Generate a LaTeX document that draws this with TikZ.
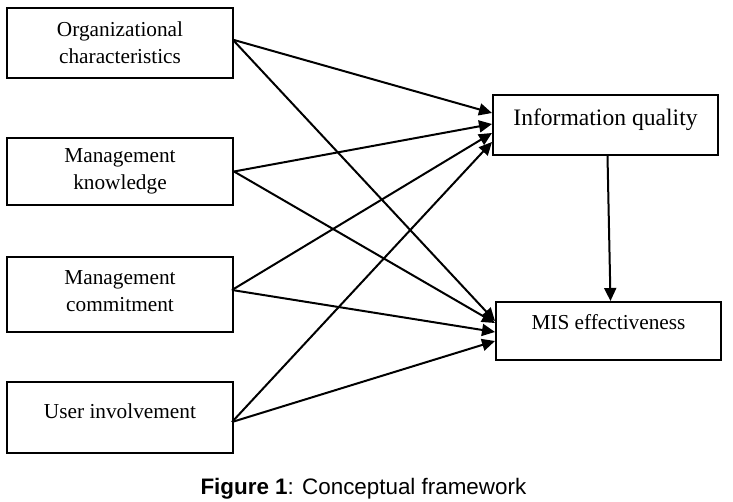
\documentclass[tikz,border=0pt]{standalone}
\usepackage{fontspec}
\setmainfont{Liberation Serif}
\newfontfamily\capfont{Liberation Sans}
\usetikzlibrary{arrows.meta}

\begin{document}
\begin{tikzpicture}[x=0.5pt,y=-0.5pt,box/.style={draw=black,line width=1pt,align=center,inner sep=0pt,font=\fontsize{10.65}{13.5}\selectfont},arr/.style={-{Triangle[length=6.5pt,width=6pt]},line width=1pt,draw=black}]
\useasboundingbox (0,0) rectangle (733,502);
\node[box,minimum width=113pt,minimum height=35pt] (org) at (120,43) {Organizational\\characteristics};
\node[box,minimum width=113pt,minimum height=33.5pt] (mgk) at (120,171.5) {Management\\knowledge};
\node[box,minimum width=113pt,minimum height=37.5pt,text depth=3pt] (mgc) at (120,294.5) {Management\\commitment};
\node[box,minimum width=113pt,minimum height=35.5pt,text depth=6pt] (usr) at (120,417.5) {User involvement};
\node[box,minimum width=112.5pt,minimum height=30pt,text depth=7.4pt,font=\fontsize{11.8}{14}\selectfont] (iq) at (605.5,125) {Information quality};
\node[box,minimum width=112.5pt,minimum height=29pt,text depth=8.9pt] (mis) at (608.5,331) {MIS effectiveness};
\node[anchor=base,font=\capfont\fontsize{11.2}{13}\selectfont] (cap) at (363.4,494) {\textbf{Figure 1}: Conceptual framework};
\draw[arr]([yshift=1.5pt]org.east)--([yshift=6pt]iq.west);\draw[arr]([yshift=1pt]org.east)--([yshift=5pt]mis.west);
\draw[arr](mgk.east)--([yshift=0.5pt]iq.west);\draw[arr](mgk.east)--([yshift=4pt]mis.west);
\draw[arr]([xshift=-1pt,yshift=2.25pt]mgc.east)--([yshift=-4pt]iq.west);\draw[arr]([xshift=-1pt,yshift=2.25pt]mgc.east)--([yshift=-0.5pt]mis.west);
\draw[arr]([xshift=-1pt,yshift=-2.25pt]usr.east)--([yshift=-8.5pt]iq.west);\draw[arr]([xshift=-1pt,yshift=-2.25pt]usr.east)--([yshift=-5pt]mis.west);
\draw[arr]([xshift=1pt]iq.south)--([xshift=1pt]mis.north);
\end{tikzpicture}
\end{document}
